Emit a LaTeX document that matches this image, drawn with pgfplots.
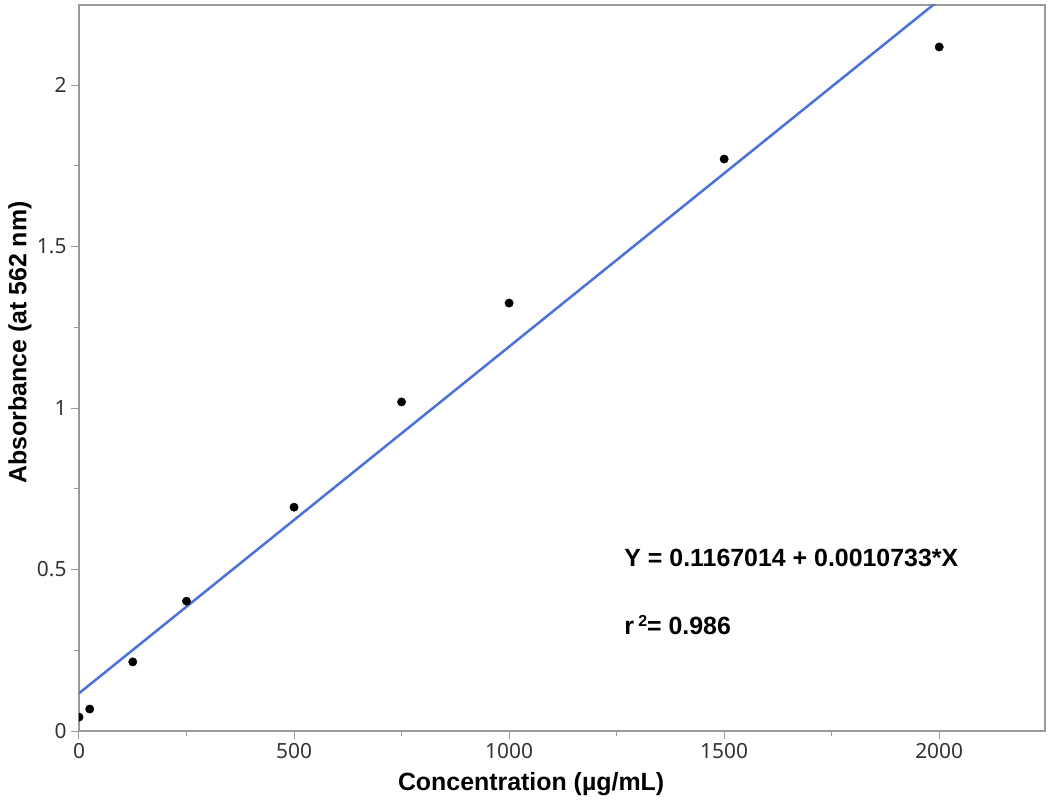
\documentclass[border=0pt]{standalone}
\usepackage{pgfplots}
\pgfplotsset{compat=1.18}
\usepackage{fontspec}
\setmainfont{Liberation Sans}
\newfontfamily\tickfont{Noto Sans}
\definecolor{fitblue}{HTML}{4A72D8}
\definecolor{axgray}{HTML}{9A9A9A}
\definecolor{ticktext}{HTML}{333333}
\begin{document}
\begin{tikzpicture}
\begin{axis}[
  scale only axis,
  width=966bp, height=726bp,
  xmin=0, xmax=2246, ymin=0, ymax=2.248,
  axis line style={axgray, line width=1.2bp},
  xtick={0,500,1000,1500,2000},
  minor xtick={250,750,1250,1750,2250},
  ytick={0,0.5,1,1.5,2},
  minor ytick={0.25,0.75,1.25,1.75},
  xticklabels={0,500,1000,1500,2000},
  yticklabels={0,0.5,1,1.5,2},
  tick align=outside,
  tick pos=left,
  major tick length=8bp,
  minor tick length=5bp,
  tick style={axgray, line width=1bp},
  tick label style={font=\tickfont\fontsize{21}{24}\selectfont, text=ticktext},
  xticklabel style={yshift=-1bp},
  yticklabel style={xshift=-1bp},
  label style={font=\bfseries\fontsize{25}{30}\selectfont, text=black},
  xlabel={Concentration (µg/mL)},
  ylabel={Absorbance (at 562 nm)},
  xlabel style={at={(rel axis cs:0.468,0)}, anchor=north, yshift=-38bp},
  ylabel style={at={(rel axis cs:0,0.535)}, anchor=south, yshift=44bp},
  clip=true,
  clip marker paths=true,
]
\addplot[fitblue, line width=2.5bp] coordinates {(0,0.1167014) (2000,2.2633014)};
\addplot[only marks, mark=*, mark size=4.2bp, black] coordinates {
  (0,0.043) (25,0.068) (125,0.214) (250,0.402) (500,0.693)
  (750,1.019) (1000,1.325) (1500,1.771) (2000,2.118)
};
\node[anchor=base west, font=\bfseries\fontsize{25}{30}\selectfont] at (axis cs:1260,0.51) {Y = 0.1167014 + 0.0010733*X};
\node[anchor=base west, font=\bfseries\fontsize{25}{30}\selectfont] at (axis cs:1260,0.30) {r\,\raisebox{8bp}{\fontsize{16}{18}\selectfont 2}= 0.986};
\end{axis}
\pgfresetboundingbox
\useasboundingbox (current axis.south west) ++(-79bp,-77bp) rectangle ([xshift=3bp,yshift=5bp]current axis.north east);
\end{tikzpicture}
\end{document}
